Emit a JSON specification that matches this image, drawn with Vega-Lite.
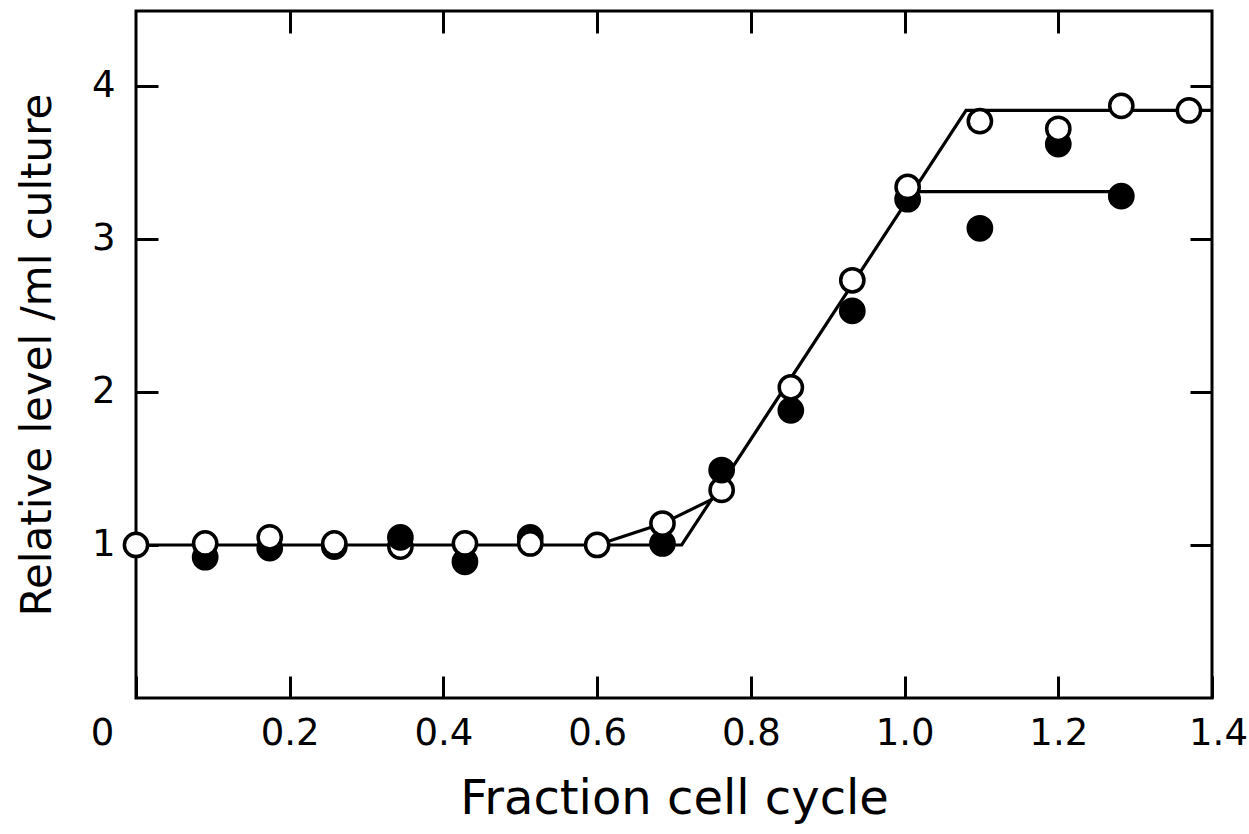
{
  "$schema": "https://vega.github.io/schema/vega-lite/v6.json",
  "width": 1076,
  "height": 687,
  "autosize": {"type": "none"},
  "padding": {"left": 136, "top": 11, "right": 37, "bottom": 136},
  "background": "white",
  "config": {
    "view": {"stroke": "black", "strokeWidth": 3},
    "axis": {
      "domain": false,
      "grid": false,
      "tickColor": "black",
      "tickWidth": 3,
      "labelColor": "black",
      "titleColor": "black",
      "labelFont": "DejaVu Sans",
      "titleFont": "DejaVu Sans",
      "labelFontSize": 37,
      "titleFontSize": 48,
      "titleFontWeight": "normal",
      "labelOverlap": false,
      "labelFlush": false
    }
  },
  "layer": [
    {
      "data": {
        "values": [
          {"line": "A", "ord": 1, "x": 0.0, "y": 1.0},
          {"line": "A", "ord": 2, "x": 0.71, "y": 1.0},
          {"line": "A", "ord": 3, "x": 1.08, "y": 3.84},
          {"line": "A", "ord": 4, "x": 1.4, "y": 3.84},
          {"line": "B", "ord": 1, "x": 0.6, "y": 1.0},
          {"line": "B", "ord": 2, "x": 0.685, "y": 1.14},
          {"line": "B", "ord": 3, "x": 0.75, "y": 1.3},
          {"line": "C", "ord": 1, "x": 1.011, "y": 3.31},
          {"line": "C", "ord": 2, "x": 1.28, "y": 3.31}
        ]
      },
      "mark": {"type": "line", "color": "black", "strokeWidth": 3.2},
      "encoding": {
        "x": {
          "field": "x", "type": "quantitative",
          "scale": {"domain": [0, 1.4], "nice": false, "zero": false},
          "axis": {
            "orient": "bottom",
            "values": [0, 0.2, 0.4, 0.6, 0.8, 1.0, 1.2, 1.4],
            "tickSize": -22,
            "labelPadding": 39,
            "labelExpr": "datum.value == 0 ? '0' : format(datum.value, '.1f')",
            "labelOffset": {"condition": [{"test": "datum.value == 0", "value": -34}, {"test": "datum.value > 1.39", "value": 6}], "value": 0},
            "title": "Fraction cell cycle",
            "titleFontSize": 48,
            "titlePadding": 24
          }
        },
        "y": {
          "field": "y", "type": "quantitative",
          "scale": {"domain": [0, 4.49], "nice": false},
          "axis": {
            "orient": "left",
            "values": [1, 2, 3, 4],
            "format": "d",
            "tickSize": -22,
            "labelPadding": 43,
            "title": "Relative level /ml culture",
            "titleFontSize": 42,
            "titlePadding": 32
          }
        },
        "detail": {"field": "line"},
        "order": {"field": "ord"}
      }
    },
    {
      "data": {
        "values": [
          {"x": 0.0, "y": 1.0, "series": "open"},
          {"x": 0.09, "y": 0.92, "series": "filled"},
          {"x": 0.09, "y": 1.01, "series": "open"},
          {"x": 0.174, "y": 0.98, "series": "filled"},
          {"x": 0.174, "y": 1.05, "series": "open"},
          {"x": 0.258, "y": 0.99, "series": "filled"},
          {"x": 0.258, "y": 1.01, "series": "open"},
          {"x": 0.344, "y": 0.99, "series": "open"},
          {"x": 0.344, "y": 1.05, "series": "filled"},
          {"x": 0.428, "y": 0.89, "series": "filled"},
          {"x": 0.428, "y": 1.01, "series": "open"},
          {"x": 0.513, "y": 1.05, "series": "filled"},
          {"x": 0.513, "y": 1.01, "series": "open"},
          {"x": 0.6, "y": 1.0, "series": "open"},
          {"x": 0.685, "y": 1.01, "series": "filled"},
          {"x": 0.685, "y": 1.14, "series": "open"},
          {"x": 0.762, "y": 1.36, "series": "open"},
          {"x": 0.762, "y": 1.49, "series": "filled"},
          {"x": 0.852, "y": 1.88, "series": "filled"},
          {"x": 0.852, "y": 2.03, "series": "open"},
          {"x": 0.932, "y": 2.53, "series": "filled"},
          {"x": 0.932, "y": 2.73, "series": "open"},
          {"x": 1.004, "y": 3.26, "series": "filled"},
          {"x": 1.004, "y": 3.34, "series": "open"},
          {"x": 1.098, "y": 3.07, "series": "filled"},
          {"x": 1.098, "y": 3.77, "series": "open"},
          {"x": 1.2, "y": 3.62, "series": "filled"},
          {"x": 1.2, "y": 3.72, "series": "open"},
          {"x": 1.282, "y": 3.28, "series": "filled"},
          {"x": 1.282, "y": 3.87, "series": "open"},
          {"x": 1.37, "y": 3.84, "series": "open"}
        ]
      },
      "mark": {"type": "circle", "size": 540, "stroke": "black", "strokeWidth": 3.5, "opacity": 1},
      "encoding": {
        "x": {
          "field": "x", "type": "quantitative",
          "scale": {"domain": [0, 1.4], "nice": false, "zero": false},
          "axis": {
            "orient": "top",
            "values": [0.2, 0.4, 0.6, 0.8, 1.0, 1.2],
            "tickSize": -22,
            "labels": false,
            "title": null
          }
        },
        "y": {
          "field": "y", "type": "quantitative",
          "scale": {"domain": [0, 4.49], "nice": false},
          "axis": {
            "orient": "right",
            "values": [1, 2, 3, 4],
            "tickSize": -22,
            "labels": false,
            "title": null
          }
        },
        "fill": {
          "field": "series", "type": "nominal",
          "scale": {"domain": ["open", "filled"], "range": ["white", "black"]},
          "legend": null
        }
      }
    }
  ],
  "resolve": {"axis": {"x": "independent", "y": "independent"}}
}
